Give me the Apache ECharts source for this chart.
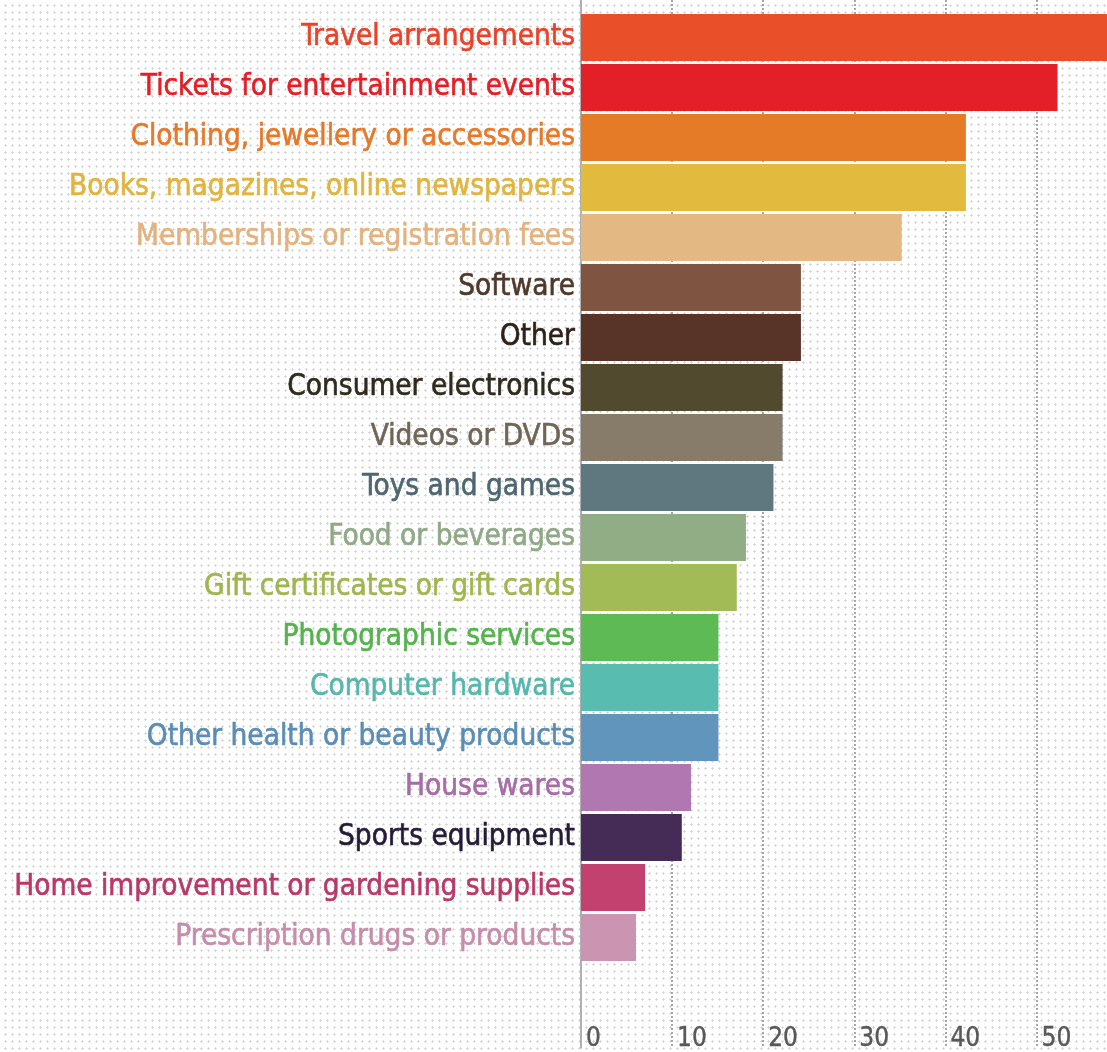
<!DOCTYPE html>
<html>
<head>
<meta charset="utf-8">
<script src="https://cdn.jsdelivr.net/npm/echarts@6/dist/echarts.min.js"></script>
<style>
html,body{margin:0;padding:0;background:#fff;}
#chart{width:1107px;height:1052px;
  background-image:radial-gradient(circle, #d2d2d2 0.9px, rgba(255,255,255,0) 1.3px);
  background-size:7px 7px;background-position:2px 2px;}
</style>
</head>
<body>
<div id="chart"></div>
<script>
const categories = [
  "Travel arrangements",
  "Tickets for entertainment events",
  "Clothing, jewellery or accessories",
  "Books, magazines, online newspapers",
  "Memberships or registration fees",
  "Software",
  "Other",
  "Consumer electronics",
  "Videos or DVDs",
  "Toys and games",
  "Food or beverages",
  "Gift certificates or gift cards",
  "Photographic services",
  "Computer hardware",
  "Other health or beauty products",
  "House wares",
  "Sports equipment",
  "Home improvement or gardening supplies",
  "Prescription drugs or products"
];
const values = [59, 52, 42, 42, 35, 24, 24, 22, 22, 21, 18, 17, 15, 15, 15, 12, 11, 7, 6];
const barColors = [
  "#E9502A", "#E31F27", "#E57B26", "#E2BA3E", "#E4B883",
  "#7F5541", "#573427", "#524A2E", "#877B6A", "#5F7880",
  "#91AD86", "#A3BB56", "#5DBA55", "#58BCB1", "#6195BB",
  "#B077B0", "#442C57", "#C2416F", "#CB94B1"
];
const labelColors = [
  "#E8432A", "#E31E26", "#E5792A", "#E0B43E", "#E2B27F",
  "#4E3A2C", "#2E2119", "#2E2A1E", "#6F6657", "#4D6670",
  "#8FA886", "#9FB64F", "#55B24E", "#55B7AC", "#5A8DB4",
  "#A56DA6", "#241B36", "#B83868", "#C68DAB"
];
const tickValues = [0, 10, 20, 30, 40, 50];

const labelFamily = "'Liberation Sans Narrow', 'DejaVu Sans Condensed', 'Open Sans', sans-serif";
function fitSize(text, targetWidth){
  const ctx = document.createElement('canvas').getContext('2d');
  ctx.font = "40px " + labelFamily;
  const w = ctx.measureText(text).width;
  return 40 * targetWidth / w;
}
const labelSize = Math.min(34, fitSize("Home improvement or gardening supplies", 561));

const rich = {};
labelColors.forEach(function(c, i){
  rich['c' + i] = {color: c, textBorderColor: c, textBorderWidth: 0.6,
    fontSize: labelSize, fontFamily: labelFamily};
});

const AX_MIN = 0, AX_MAX = 57.4, AX_INT = 10;

const chart = echarts.init(document.getElementById('chart'), null, {renderer:'canvas'});
chart.setOption({
  backgroundColor: 'transparent',
  animation: false,
  grid: [
    {left: 581, right: 0, top: 12.5, height: 950, containLabel: false},
    {left: 581, right: 0, top: 0, bottom: 0, containLabel: false}
  ],
  xAxis: [
    {gridIndex: 0, type: 'value', min: AX_MIN, max: AX_MAX, interval: AX_INT, show: false},
    {gridIndex: 1, type: 'value', min: AX_MIN, max: AX_MAX, interval: AX_INT,
      axisLine: {show: false}, axisTick: {show: false},
      splitLine: {show: true, showMinLine: false, showMaxLine: false,
        lineStyle: {color: '#8a8a8a', type: [2, 2], width: 1.5}},
      axisLabel: {inside: true, margin: -4, align: 'left', padding: [0, 0, 0, 5],
        color: '#585858', fontSize: 26, fontFamily: labelFamily,
        textBorderColor: '#585858', textBorderWidth: 0.4,
        formatter: function(v){ return tickValues.indexOf(v) >= 0 ? String(v) : ''; }}
    }
  ],
  yAxis: [
    {gridIndex: 0, type: 'category', data: categories, inverse: true,
      axisLine: {show: false}, axisTick: {show: false}, splitLine: {show: false},
      axisLabel: {margin: 6, fontSize: labelSize, fontFamily: labelFamily,
        formatter: function(value){ return '{c' + categories.indexOf(value) + '|' + value + '}'; },
        rich: rich}
    },
    {gridIndex: 1, type: 'value', min: 0, max: 1,
      axisLine: {show: true, lineStyle: {color: '#b0b0b0', width: 2}},
      axisTick: {show: false}, axisLabel: {show: false}, splitLine: {show: false}
    }
  ],
  series: [{
    type: 'bar',
    xAxisIndex: 0, yAxisIndex: 0,
    barWidth: 47,
    clip: true,
    data: values.map(function(v, i){ return {value: v, itemStyle: {color: barColors[i]}}; }),
    z: 3
  }]
});
</script>
</body>
</html>
